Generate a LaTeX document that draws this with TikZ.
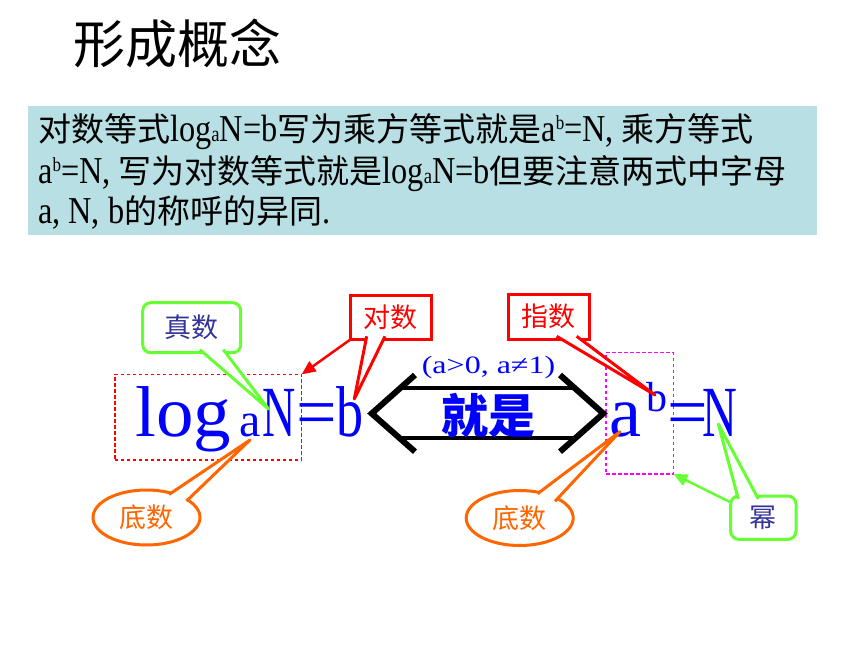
\documentclass[tikz,border=0pt]{standalone}
\usepackage{fontspec}
\setmainfont{Liberation Serif}
\newfontfamily\cjk{Noto Sans CJK SC}
\newfontfamily\latn[FakeStretch=0.85]{Liberation Serif}
\usetikzlibrary{shapes.geometric,arrows.meta,calc}
\definecolor{tealbg}{RGB}{184,223,227}
\definecolor{cgreen}{RGB}{102,255,51}
\definecolor{corange}{RGB}{255,102,0}
\definecolor{cindigo}{RGB}{51,51,153}
\definecolor{cmag}{RGB}{255,0,255}
\newcommand\zhb[1]{{\cjk\fontsize{33}{33}\selectfont #1}}
\newcommand\lsub[1]{{\fontsize{22}{22}\selectfont #1}}
\newcommand\lsup[1]{\raisebox{12pt}{\fontsize{20}{20}\selectfont #1}}
\begin{document}
\begin{tikzpicture}[x=1pt,y=-1pt,
  tline/.style={anchor=base west, inner sep=0, font=\latn\fontsize{38}{38}\selectfont},
  big/.style={anchor=base west, inner sep=0, text=blue, font=\fontsize{72}{72}\selectfont},
  dbox/.style={draw, line width=1.2pt, dash pattern=on 3.5pt off 2.5pt, inner sep=0, outer sep=0},
  callrect/.style={draw, line width=3pt, fill=white, inner sep=0, outer sep=0, font=\cjk\fontsize{27}{27}\selectfont},
  callell/.style={ellipse, draw=corange, text=corange, line width=3pt, fill=white, inner sep=0, outer sep=0, minimum width=107pt, minimum height=55pt, font=\cjk\fontsize{27}{27}\selectfont},
  ptr/.style={line width=3pt, line join=round, fill=white},
  chev/.style={draw=black, line width=6pt, line join=miter},
  bar/.style={draw=black, line width=4pt}]
\useasboundingbox (0,0) rectangle (860,645);
\fill[white] (0,0) rectangle (860,645);

% title
\node[inner sep=0, font=\cjk\fontsize{52}{52}\selectfont] (title) at (177.5,43.3) {形成概念};

% teal panel
\node[fill=tealbg, minimum width=788.7pt, minimum height=129pt, inner sep=0] (panel) at (422.65,170.5) {};
\node[tline] (t1) at (38,141) {\zhb{对数等式}log\lsub{a}N=b\zhb{写为乘方等式就是}a\lsup{b}=N,\hspace{8pt}\zhb{乘方等式}};
\node[tline] (t2) at (38,183) {a\lsup{b}=N,\hspace{8pt}\zhb{写为对数等式就是}log\lsub{a}N=b\zhb{但要注意两式中字母}};
\node[tline] (t3) at (38,223) {a, N, b\zhb{的称呼的异同}.};

% dashed boxes
\node[dbox, draw=red, minimum width=186.7pt, minimum height=85.7pt] (logbox) at (208.3,417.2) {};
\node[dbox, draw=cmag, minimum width=67.3pt, minimum height=121.3pt] (magbox) at (639.7,413.3) {};

% double arrow
\draw[chev] (415,375) -- (371.7,413.5) -- (415,451.7);
\draw[chev] (560,375) -- (603.3,413.5) -- (560,451.7);
\draw[bar] (400,388.3) -- (575,388.3);
\draw[bar] (400,438.3) -- (575,438.3);
\node[inner sep=0, text=blue, font=\cjk\bfseries\fontsize{47}{47}\selectfont] (jiushi) at (488.3,416) {就是};
\node[anchor=base, inner sep=0, text=blue, font=\fontsize{25}{25}\selectfont] (cond) at (488.5,373.5) {\scalebox{1.28}[1]{(a>0, a≠1)}};

% formula left
\node[big] (lg) at (135,436.7) {\scalebox{1.04}[1]{log}};
\node[anchor=base west, inner sep=0, text=blue, font=\fontsize{48}{48}\selectfont] (la) at (239.5,436.7) {a};
\node[big] (lN) at (262,436.7) {\scalebox{0.64}[1]{N}};
\node[big] (leq) at (296.5,436.7) {=};
\node[big] (lb) at (336.5,436.7) {\scalebox{0.75}[1]{b}};

% formula right
\node[big] (ra) at (609,436.7) {a};
\node[anchor=base west, inner sep=0, text=blue, font=\fontsize{42}{42}\selectfont] (rb) at (646,411.7) {b};
\node[big] (req) at (667,436.7) {=};
\node[big] (rN) at (702,436.7) {\scalebox{0.67}[1]{N}};

% callouts
\node[callrect, draw=cgreen, text=cindigo, rounded corners=8pt, minimum width=98pt, minimum height=50pt] (zhen) at (191.7,327.7) {真数};
\filldraw[ptr, draw=cgreen] (200,349.7) -- (268.5,409) -- (223.3,349.7);

\node[callrect, draw=red, text=red, minimum width=80.3pt, minimum height=44.3pt] (dui) at (390.85,317.15) {对数};
\filldraw[ptr, draw=red] (366.7,336.3) -- (354.3,399) -- (385,336.3);

\node[callrect, draw=red, text=red, minimum width=81pt, minimum height=45.3pt] (zhi) at (548.8,316.7) {指数};
\filldraw[ptr, draw=red] (556.7,336.3) -- (655,395) -- (576.7,336.3);

\node[callell] (di1) at (146.5,517.5) {底数};
\filldraw[ptr, draw=corange] (169,494.5) -- (250,440) -- (186.5,501);

\node[callell] (di2) at (519.7,518) {底数};
\filldraw[ptr, draw=corange] (537.5,493.7) -- (620,431.7) -- (555,501.3);

\node[callrect, draw=cgreen, text=cindigo, rounded corners=8pt, minimum width=65.3pt, minimum height=43.3pt] (mi) at (763.35,517.65) {幂};
\filldraw[ptr, draw=cgreen] (738.3,499) -- (718.3,424) -- (758.3,499);

% arrows
\draw[red, line width=2.5pt, -{Triangle[length=14pt,width=12pt]}] (dui.south west) -- (logbox.north east);
\draw[cgreen, line width=2.5pt, -{Triangle[length=14pt,width=12pt]}] (mi.155) -- (magbox.south east);
\end{tikzpicture}
\end{document}
